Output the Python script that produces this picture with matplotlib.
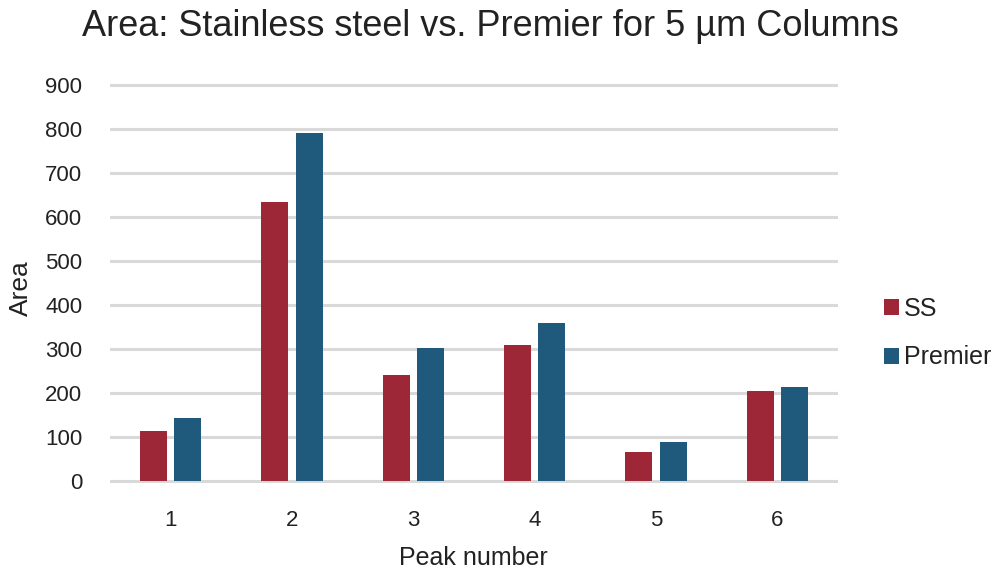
import matplotlib.pyplot as plt
import numpy as np

plt.rcParams['font.family'] = ['Liberation Sans', 'DejaVu Sans']

peaks = ['1', '2', '3', '4', '5', '6']
ss_area = [114, 635, 242, 309, 65, 204]
premier_area = [143, 791, 303, 360, 88, 213]
y_ticks = [0, 100, 200, 300, 400, 500, 600, 700, 800, 900]

ss_color = '#9e2737'
premier_color = '#1f5a7c'
text_color = '#222222'
grid_color = '#d9d9d9'

W, H = 997, 570
fig = plt.figure(figsize=(W / 100, H / 100), dpi=100)
# axes in pixel terms: x 110..838, y(-5)=483.2, y(905)=82.8
ax = fig.add_axes([110 / W, (H - 483.2) / H, 728 / W, (483.2 - 82.8) / H])

x = np.arange(len(peaks))
w = 0.22
off = 0.1415
ax.bar(x - off, ss_area, w, color=ss_color, label='SS', zorder=3)
ax.bar(x + off, premier_area, w, color=premier_color, label='Premier', zorder=3)

ax.set_xlim(-0.5, len(peaks) - 0.5)
ax.set_ylim(-5, 905)
ax.set_yticks(y_ticks)
ax.set_xticks(x)
ax.set_xticklabels(peaks)
ax.yaxis.grid(True, color=grid_color, linewidth=2.2, zorder=0)
ax.set_axisbelow(True)
for s in ax.spines.values():
    s.set_visible(False)
ax.tick_params(axis='both', length=0, labelsize=16, colors=text_color)
ax.tick_params(axis='y', pad=20)
ax.tick_params(axis='x', pad=19)

# axis titles placed in figure pixels
fig.text(473 / W, 1 - 565 / H, 'Peak number', ha='center', va='baseline',
         fontsize=18, color=text_color)
fig.text(21 / W, 1 - 288 / H, 'Area', ha='center', va='center', rotation=90,
         fontsize=19, color=text_color)

fig.text(490 / W, 1 - 26 / H, 'Area: Stainless steel vs. Premier for 5 µm Columns',
         ha='center', va='center', fontsize=26, color=text_color)

handles, labels = ax.get_legend_handles_labels()
fig.legend(handles, labels, loc='center left', bbox_to_anchor=(884 / W, 1 - 333 / H),
           frameon=False, fontsize=18, borderpad=0, borderaxespad=0,
           handlelength=0.6, handleheight=0.6, handletextpad=0.2, labelspacing=1.0,
           labelcolor=text_color)

fig.savefig('out.png', dpi=100)
